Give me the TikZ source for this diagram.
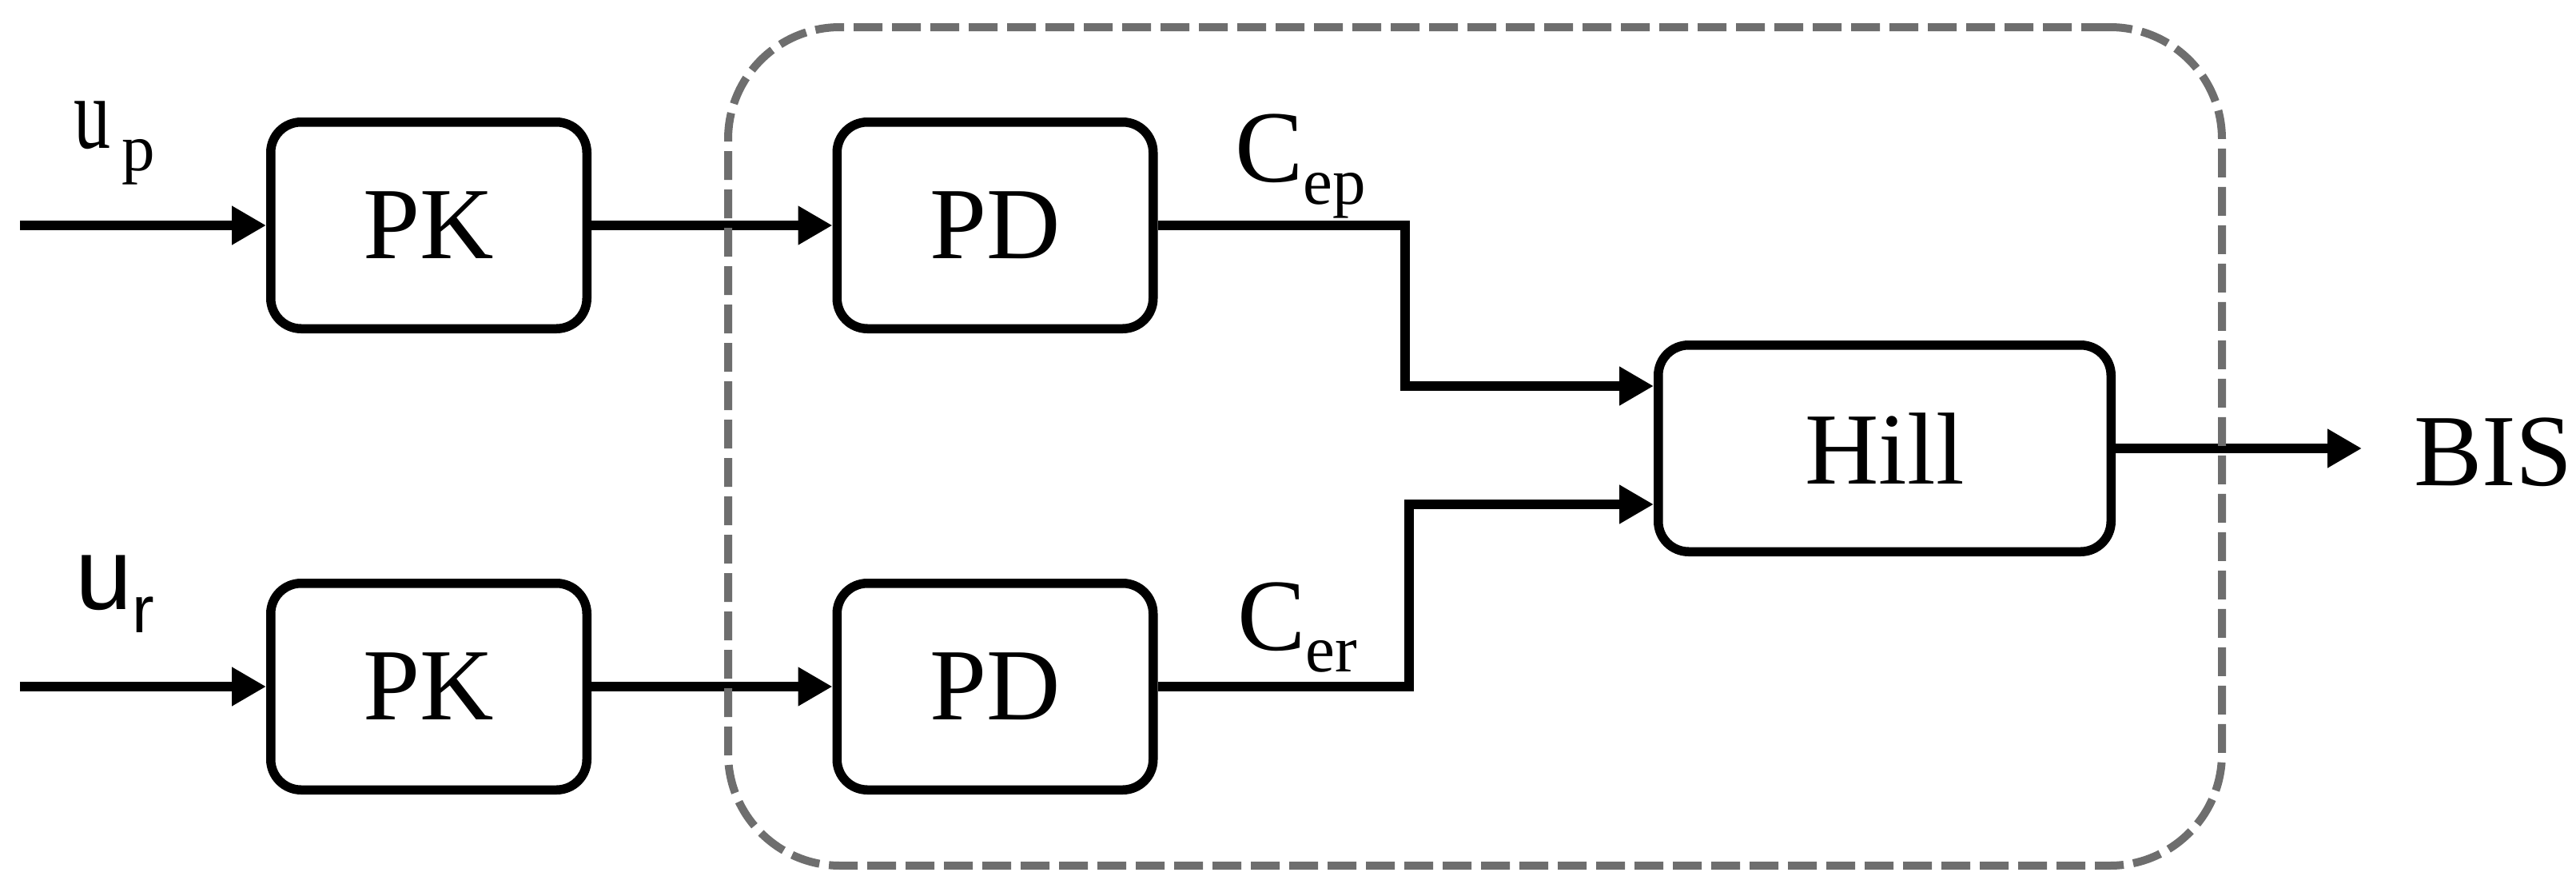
\documentclass[tikz,border=0pt]{standalone}
\usepackage{fontspec}
\setmainfont{Liberation Serif}
\newfontfamily\arialf{Liberation Sans}
\usetikzlibrary{arrows.meta}
\definecolor{dashgray}{RGB}{110,110,110}
\newcommand\bigfs{\fontsize{36.4pt}{40pt}\selectfont}
\newcommand\subfs{\fontsize{23.6pt}{26pt}\selectfont}
\tikzset{
  blockbox/.style={draw, line width=0.115cm, rounded corners=0.38cm, minimum height=2.585cm, inner sep=0pt, font=\bigfs},
  smallblock/.style={blockbox, minimum width=3.955cm},
  conn/.style={line width=0.115cm, -{Triangle[length=0.43cm,width=0.46cm]}},
  lbl/.style={anchor=base west, inner sep=0pt, outer sep=0pt, font=\bigfs},
  groupbox/.style={draw=dashgray, line width=0.1cm, dash pattern=on 0.36cm off 0.12cm, rounded corners=1.4cm, inner sep=0pt, minimum width=18.69cm, minimum height=10.49cm}
}
\begin{document}
\begin{tikzpicture}
\useasboundingbox (0,0) rectangle (32.23,11.10);
% blocks
\node[smallblock] (pk1) at (5.365,8.28) {PK};
\node[smallblock] (pk2) at (5.365,2.51) {PK};
\node[smallblock] (pd1) at (12.45,8.28) {PD};
\node[smallblock] (pd2) at (12.45,2.51) {PD};
\node[blockbox, minimum width=5.665cm] (hill) at (23.58,5.49) {Hill};
% helper coordinates
\coordinate (in1) at (0.25,8.28);
\coordinate (in2) at (0.25,2.51);
\coordinate (k1) at (17.58,7.0);
\coordinate (k2) at (17.63,4.0);
\coordinate (h1) at ([yshift=0.78cm]hill.west);
\coordinate (h2) at ([yshift=-0.70cm]hill.west);
\coordinate (bisend) at (29.55,5.49);
% connectors
\draw[conn] (in1) -- (pk1.west);
\draw[conn] (in2) -- (pk2.west);
\draw[conn] (pk1.east) -- (pd1.west);
\draw[conn] (pk2.east) -- (pd2.west);
\draw[conn] (pd1.east) -| (k1) |- (h1);
\draw[conn] (pd2.east) -| (k2) |- (h2);
\draw[conn] (hill.east) -- (bisend);
% labels
\node[lbl] (up) at (0.92,9.25) {\scalebox{0.72}[1]{u}\hspace{0.14cm}\raisebox{-0.28cm}{\subfs p}};
\node[lbl] (ur) at (0.94,3.48) {\arialf u\raisebox{-0.29cm}{\subfs r}};
\node[lbl] (cep) at (15.45,8.83) {C\raisebox{-0.28cm}{\subfs ep}};
\node[lbl] (cer) at (15.48,2.97) {C\raisebox{-0.27cm}{\subfs er}};
\node[lbl] (bis) at (30.20,5.03) {BIS};
% dashed group
\node[groupbox] (grp) at (18.455,5.515) {};
\end{tikzpicture}
\end{document}
